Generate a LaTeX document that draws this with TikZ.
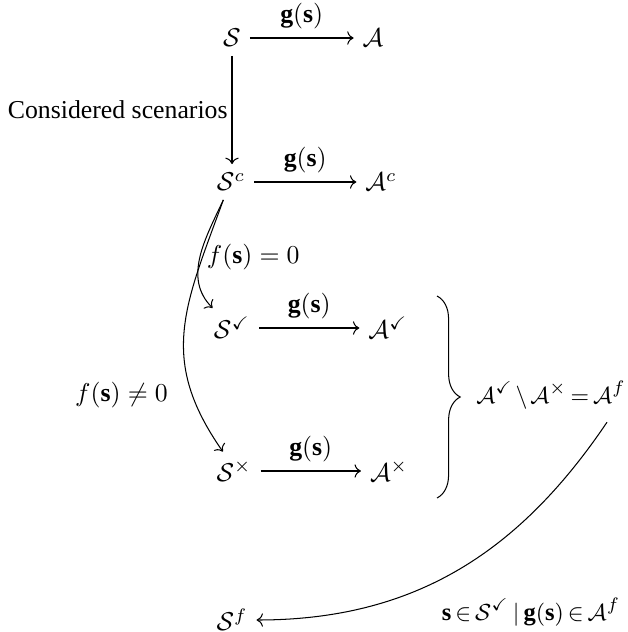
\documentclass[tikz,border=0pt]{standalone}
\usepackage{amsmath,amssymb}
\usepackage{fontspec}
\setmainfont{Liberation Serif}
\usetikzlibrary{arrows.meta, decorations.pathreplacing}
\newcommand{\tightmu}{\thickmuskip=3mu\relax\medmuskip=2mu\relax}

\begin{document}
\begin{tikzpicture}[x=0.388pt, y=-0.388pt, map/.style={->}, lbl/.style={above},
    tight/.style={font=\fontsize{9.5}{11}\selectfont}]
    \useasboundingbox (0,0) rectangle (627,632);

    % first row
    \node (S) at (232,38) {$\mathcal{S}$};
    \node (A) at (373,38) {$\mathcal{A}$};
    \draw[map] (S) -- node[lbl] {$\mathbf{g}(\mathbf{s})$} (A);

    % considered
    \node (Sc) at (231,182) {$\mathcal{S}^c$};
    \node (Ac) at (381,182) {$\mathcal{A}^c$};
    \draw[map] (S.south) -- node[left, inner sep=1.5pt] {Considered scenarios} (S.south |- Sc.north);
    \draw[map] (Sc) -- node[lbl] {$\mathbf{g}(\mathbf{s})$} (Ac);

    % split
    \node (Sok) at (232,328) {$\mathcal{S}^{\checkmark}$};
    \node (Aok) at (388,328) {$\mathcal{A}^{\checkmark}$};
    \node (Sno) at (234,471) {$\mathcal{S}^{\times}$};
    \node (Ano) at (389,471) {$\mathcal{A}^{\times}$};
    \draw[map] (Sok) -- node[lbl] {$\mathbf{g}(\mathbf{s})$} (Aok);
    \draw[map] (Sno) -- node[lbl] {$\mathbf{g}(\mathbf{s})$} (Ano);

    \draw[map] ([xshift=6pt]Sc.south west) to[out=-115, in=135]
        node[right, inner sep=2.5pt, pos=0.5] {$f(\mathbf{s}) = 0$} ([xshift=3pt]Sok.north west);
    \draw[map] ([xshift=6pt]Sc.south west) to[out=-110, in=125, looseness=1.15]
        node[left=6pt, pos=0.78] {$f(\mathbf{s}) \neq 0$} ([xshift=6pt]Sno.north west);

    % brace
    \draw[decorate, decoration={brace, amplitude=9pt}] (437,296) -- (437,498);
    \node[tight] (Af) at (551,395)
        {$\tightmu \mathcal{A}^{\checkmark} \setminus \mathcal{A}^{\times} = \mathcal{A}^f$};

    % final
    \node (Sf) at (232,620) {$\mathcal{S}^f$};
    \node[tight] (cond) at (531,612)
        {$\tightmu \mathbf{s} \in \mathcal{S}^{\checkmark} \,|\, \mathbf{g}(\mathbf{s}) \in \mathcal{A}^f$};
    \draw[map] ([shift={(56,4)}]Af.south) to[out=-124, in=0] (Sf);
\end{tikzpicture}
\end{document}
